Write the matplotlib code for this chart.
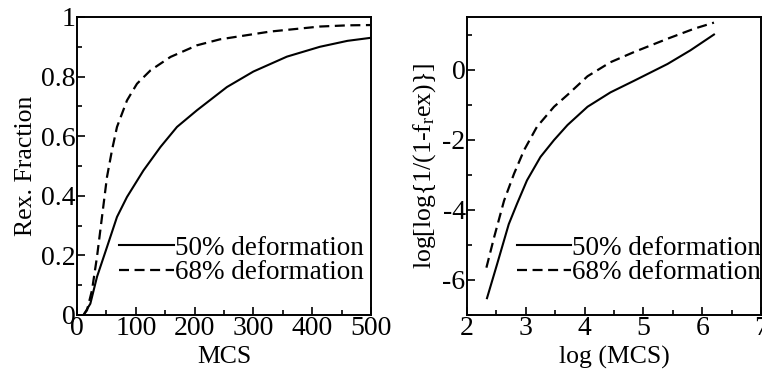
import matplotlib
matplotlib.use("Agg")
import matplotlib.pyplot as plt
from matplotlib.ticker import MultipleLocator, FixedLocator, FixedFormatter

plt.rcParams['font.family'] = ['Liberation Serif', 'DejaVu Serif']
plt.rcParams['mathtext.fontset'] = 'custom'
plt.rcParams['mathtext.rm'] = 'Liberation Serif'
plt.rcParams['mathtext.it'] = 'Liberation Serif'
plt.rcParams['axes.unicode_minus'] = False

# left panel: recrystallized fraction vs MCS
mcs_50 = [11, 22.7, 34, 51, 68, 85, 113, 142, 170, 204, 255, 300, 357, 413, 460, 499]
frac_50 = [0.0, 0.038, 0.128, 0.228, 0.329, 0.396, 0.485, 0.564, 0.631, 0.687,
           0.765, 0.817, 0.867, 0.90, 0.92, 0.93]
mcs_68 = [11, 17, 25.5, 34, 42.5, 51, 59.5, 68, 85, 102, 125, 159, 204, 243, 328, 413, 460, 499]
frac_68 = [0.0, 0.016, 0.083, 0.195, 0.329, 0.463, 0.553, 0.631, 0.72, 0.776, 0.821,
           0.866, 0.905, 0.925, 0.951, 0.968, 0.972, 0.973]

# right panel: JMAK plot
logm_50 = [2.34, 2.51, 2.71, 2.85, 3.02, 3.25, 3.48, 3.71, 4.05, 4.44, 4.84, 5.41, 5.8, 6.2]
jmak_50 = [-6.52, -5.56, -4.41, -3.83, -3.16, -2.49, -2.01, -1.58, -1.06, -0.65, -0.32,
           0.16, 0.55, 1.0]
logm_68 = [2.33, 2.46, 2.63, 2.80, 2.97, 3.19, 3.48, 3.71, 4.05, 4.44, 4.84, 5.41, 5.87, 6.2]
jmak_68 = [-5.65, -4.79, -3.74, -2.97, -2.30, -1.63, -1.06, -0.72, -0.19, 0.21, 0.5,
           0.88, 1.17, 1.34]

labels = ['50% deformation', '68% deformation']
tick_fs = 20
label_fs = 18.5
leg_fs = 19.5
dash = (0, (4.5, 2.5))

fig = plt.figure(figsize=(7.62, 3.71), dpi=100)
ax1 = fig.add_axes([77 / 762, 56 / 371, 294 / 762, 298 / 371])
ax2 = fig.add_axes([467 / 762, 56 / 371, 294 / 762, 298 / 371])

ax1.plot(mcs_50, frac_50, color='black', lw=1.5, label=labels[0])
ax1.plot(mcs_68, frac_68, color='black', lw=1.6, linestyle=dash, label=labels[1])
ax1.set_xlim(0, 500)
ax1.set_ylim(0, 1)
ax1.xaxis.set_major_locator(MultipleLocator(100))
ax1.xaxis.set_minor_locator(MultipleLocator(50))
ax1.yaxis.set_major_locator(FixedLocator([0, 0.2, 0.4, 0.6, 0.8, 1.0]))
ax1.yaxis.set_major_formatter(FixedFormatter(['0', '0.2', '0.4', '0.6', '0.8', '1']))
ax1.yaxis.set_minor_locator(MultipleLocator(0.1))
ax1.set_xlabel('MCS', fontsize=label_fs, labelpad=3)
ax1.set_ylabel('Rex. Fraction', fontsize=label_fs, labelpad=3)

ax2.plot(logm_50, jmak_50, color='black', lw=1.5, label=labels[0])
ax2.plot(logm_68, jmak_68, color='black', lw=1.6, linestyle=dash, label=labels[1])
ax2.set_xlim(2, 7)
ax2.set_ylim(-7, 1.5)
ax2.xaxis.set_major_locator(MultipleLocator(1))
ax2.xaxis.set_minor_locator(MultipleLocator(0.5))
ax2.yaxis.set_major_locator(MultipleLocator(2))
ax2.yaxis.set_minor_locator(MultipleLocator(1))
ax2.set_xlabel('log (MCS)', fontsize=label_fs, labelpad=3)
ax2.set_ylabel(r'log[log{1/(1-f$_{\rm r}$ex)}]', fontsize=label_fs, labelpad=3)

for ax, xr in ((ax1, 0.975), (ax2, 1.0)):
    for s in ax.spines.values():
        s.set_linewidth(1.4)
    ax.tick_params(which='both', direction='in', labelsize=tick_fs, width=1.2)
    ax.tick_params(which='major', length=6, pad=1)
    ax.tick_params(which='minor', length=3.5)
    ax.legend(loc='lower right', bbox_to_anchor=(xr, 0.1), frameon=False,
              fontsize=leg_fs, handlelength=2.0, handletextpad=0.05,
              labelspacing=-0.02, borderaxespad=0.0, borderpad=0.0)

fig.savefig('out.png', dpi=100)
